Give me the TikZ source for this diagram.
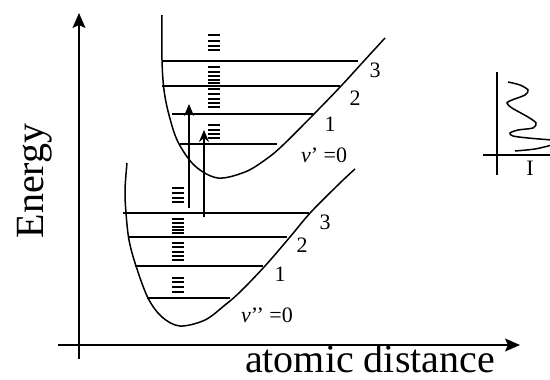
\documentclass[tikz,border=0pt]{standalone}
\usepackage{fontspec}
\setmainfont{Liberation Serif}
\usetikzlibrary{arrows.meta}
\begin{document}
\begin{tikzpicture}[x=1pt,y=-1pt,
  curve/.style={line width=1.5pt},
  level/.style={line width=1.8pt},
  rot/.style={line width=1.5pt},
  axis/.style={line width=1.4pt},
  trans/.style={line width=1.5pt,-{Stealth[length=12pt,width=10pt]}},
  lbl/.style={font=\fontsize{22}{22}\selectfont, inner sep=0pt},
  big/.style={font=\fontsize{40}{40}\selectfont, inner sep=0pt}]
\useasboundingbox (0,0) rectangle (550,380);
\clip (0,0) rectangle (550,380);
% axes
\coordinate (yb) at (79,359); \coordinate (yt) at (79,13);
\coordinate (xl) at (58,345); \coordinate (xr) at (520,345);
\draw[axis,-{Stealth[length=15pt,width=13pt,inset=3pt]}] (yb) -- (yt);
\draw[axis,-{Stealth[length=15pt,width=13pt,inset=3pt]}] (xl) -- (xr);
\node[big, rotate=90, anchor=base] (en) at (43,181) {Energy};
\node[big, anchor=base] (ad) at (370,372) {atomic distance};
% upper potential curve
\draw[curve] plot[smooth, tension=0.55] coordinates {(162,15) (162,60) (164,90) (169,115) (178,142) (195,166) (218,178) (245,172) (265,160) (282,146) (315,113) (342,85) (363,62) (385,38)};
\draw[level] (162,61) -- (358,61);
\draw[level] (162,86) -- (340,86);
\draw[level] (172,114) -- (313,114);
\draw[level] (180,144) -- (277,144);
\foreach \y in {35,41,46,50, 67,72,76,80,83, 89,94,99,103,107, 125,130,134,138}
  \draw[rot] (208,\y) -- (220,\y);
\node[lbl] (u3) at (375,70) {3};
\node[lbl] (u2) at (355,98) {2};
\node[lbl] (u1) at (330,124) {1};
\node[lbl] (u0) at (324,155) {\textit{v}’ =0};
% lower potential curve
\draw[curve] plot[smooth, tension=0.55] coordinates {(127,163) (125,190) (126,213) (129,240) (136,266) (148,298) (162,317) (180,326) (205,320) (225,305) (240,292) (265,266) (290,237) (311,212) (340,183) (355,169)};
\draw[level] (123,213) -- (309,213);
\draw[level] (128,237) -- (287,237);
\draw[level] (135,266) -- (263,266);
\draw[level] (147,298) -- (230,298);
\foreach \y in {188,193,198,202, 219,223,227,230,233, 243,247,252,256,260, 278,282,287,292}
  \draw[rot] (172,\y) -- (184,\y);
\node[lbl] (l3) at (325,222) {3};
\node[lbl] (l2) at (302,245) {2};
\node[lbl] (l1) at (280,274) {1};
\node[lbl] (l0) at (267,315) {\textit{v}’’ =0};
% transitions
\coordinate (a1s) at (189,208); \coordinate (a1e) at (189,104);
\coordinate (a2s) at (204,217); \coordinate (a2e) at (204,130);
\draw[trans] (a1s) -- (a1e);
\draw[trans] (a2s) -- (a2e);
% spectrum panel
\coordinate (pv1) at (497,72); \coordinate (pv2) at (497,175);
\coordinate (ph1) at (483,155); \coordinate (ph2) at (552,155);
\draw[axis] (pv1) -- (pv2);
\draw[axis] (ph1) -- (ph2);
\draw[curve] plot[smooth] coordinates {(508,82) (520,85) (528,90) (525,95) (512,100) (507,103) (512,108) (528,117) (536,123) (533,128) (518,130) (510,133) (513,136) (528,138) (552,140)};
\draw[curve] plot[smooth] coordinates {(515,151) (535,149) (552,145)};
\node[lbl] (pI) at (530,168) {I};
\end{tikzpicture}
\end{document}
